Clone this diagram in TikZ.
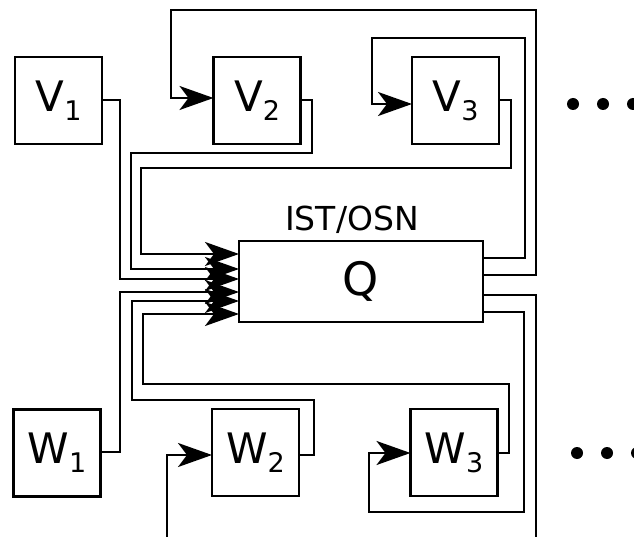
\documentclass[tikz,border=0pt]{standalone}
\usepackage{fontspec}
\setmainfont{DejaVu Sans}
\usetikzlibrary{arrows.meta}
\tikzset{
  box/.style={draw, line width=2.2pt, minimum width=87pt, minimum height=87pt, inner sep=0pt, outer sep=0pt},
  qbox/.style={draw, line width=2.2pt, minimum width=244pt, minimum height=81pt, inner sep=0pt, outer sep=0pt},
  wire/.style={line width=2.2pt},
  arr/.style={line width=2.2pt, -{Stealth[length=34pt 0, width=24pt 0, inset=9pt 0]}},
  dot/.style={circle, fill=black, minimum size=12pt, inner sep=0pt},
  lbl/.style={font=\fontsize{42}{42}\selectfont},
}
\newcommand{\bname}[2]{#1\raisebox{-9pt}{\fontsize{27}{27}\selectfont #2}}
\begin{document}
\begin{tikzpicture}[x=1pt, y=-1pt]
\useasboundingbox (0,0) rectangle (634,537);
% boxes
\node[box, lbl] (V1) at (58.5,100.5) {\bname{V}{1}};
\node[box, lbl] (V2) at (257,100.5) {\bname{V}{2}};
\node[box, lbl] (V3) at (455.5,100.5) {\bname{V}{3}};
\node[box, lbl] (W1) at (57,453) {\bname{W}{1}};
\node[box, lbl] (W2) at (255.5,452.5) {\bname{W}{2}};
\node[box, lbl] (W3) at (454,452.5) {\bname{W}{3}};
\node[qbox, font=\fontsize{46}{46}\selectfont] (Q) at (361,281.5) {Q};
\node[font=\fontsize{33}{33}\selectfont] (lab) at (352,220) {IST/OSN};
% free ends
\coordinate (e1) at (536,537);
\coordinate (e2) at (167,537);
% inputs to Q
\draw[arr] (V1.east |- 0,100) -| (120,279) -- (Q.west |- 0,279);
\draw[arr] (V2.east |- 0,100) -| (312,153) -| (131,269) -- (Q.west |- 0,269);
\draw[arr] (V3.east |- 0,100) -| (511,168) -| (141,254) -- (Q.west |- 0,254);
\draw[arr] (W1.east |- 0,452) -| (120,292) -- (Q.west |- 0,292);
\draw[arr] (W2.east |- 0,455) -| (314,400) -| (132,301) -- (Q.west |- 0,301);
\draw[arr] (W3.east |- 0,453) -| (509,384) -| (143,314) -- (Q.west |- 0,314);
% outputs of Q
\draw[arr] (Q.east |- 0,258) -| (525,38) -| (372,104) -- (V3.west |- 0,104);
\draw[arr] (Q.east |- 0,275) -| (536,10) -| (171,98) -- (V2.west |- 0,98);
\draw[wire] (Q.east |- 0,295) -| (e1);
\draw[arr] (Q.east |- 0,312) -| (524,512) -| (369,453) -- (W3.west |- 0,453);
\draw[arr] (e2) |- (W2.west |- 0,455);
% dots
\node[dot] (d1) at (573,104) {};
\node[dot] (d2) at (603,104) {};
\node[dot] (d3) at (633,104) {};
\node[dot] (d4) at (577,453) {};
\node[dot] (d5) at (607,453) {};
\node[dot] (d6) at (637,453) {};
\end{tikzpicture}
\end{document}
